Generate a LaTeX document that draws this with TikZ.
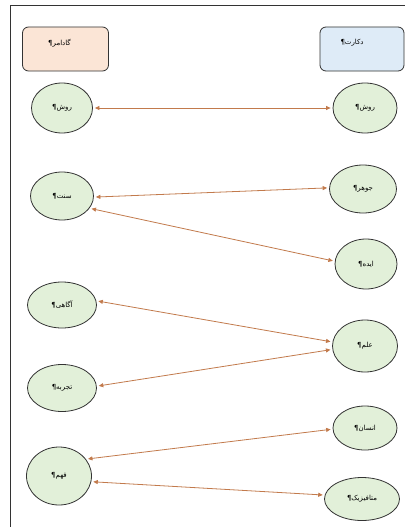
\documentclass[tikz,border=0pt]{standalone}
\usepackage{fontspec}
\TeXXeTstate=1
\newfontfamily\arabicfont[Script=Arabic]{DejaVu Sans}
\usetikzlibrary{shapes.geometric,arrows.meta,calc}
\definecolor{peach}{HTML}{FBE5D6}
\definecolor{paleblue}{HTML}{DEEBF7}
\definecolor{palegreen}{HTML}{E2F0D9}
\definecolor{edgegray}{HTML}{333333}
\definecolor{arrowcol}{HTML}{C27A4C}
\tikzset{
  box/.style={draw=edgegray,line width=0.8pt,rounded corners=6pt,minimum width=86pt,minimum height=44pt,inner sep=0pt},
  concept/.style={ellipse,draw=edgegray,line width=0.8pt,fill=palegreen,inner sep=0pt,font=\arabicfont\fontsize{7}{8}\selectfont},
  lbl/.style={inner sep=0pt,font=\arabicfont\fontsize{7}{8}\selectfont},
  link/.style={draw=arrowcol,line width=0.8pt,{Triangle[length=4.5pt,width=4pt]}-{Triangle[length=4.5pt,width=4pt]},shorten <=2pt,shorten >=2pt},
  frame/.style={draw=edgegray,line width=0.9pt}
}
\begin{document}
\begin{tikzpicture}[x=1pt,y=-1pt]
\useasboundingbox (0,0) rectangle (404,527);
\fill[white] (0,0) rectangle (404,527);
\coordinate (fbl) at (10,540);
\coordinate (ftl) at (10,5);
\coordinate (ftr) at (410,5);
\draw[frame] (fbl) -- (ftl) -- (ftr);
% header boxes
\node[box,fill=peach] (gad) at (65.5,49) {};
\node[box,fill=paleblue,minimum width=84pt] (des) at (362,49) {};
\node[lbl] (gadt) at ($(gad.center)+(-6,-6)$) {\beginR گادامر¶\endR};
\node[lbl] (dest) at ($(des.center)+(-10,-6)$) {\beginR دکارت¶\endR};
% left column
\node[concept,minimum width=61pt,minimum height=50pt] (rL) at (62,108) {\beginR روش¶\endR};
\node[concept,minimum width=63pt,minimum height=48pt] (sonnat) at (62,196) {\beginR سنت¶\endR};
\node[concept,minimum width=69pt,minimum height=46pt] (agahi) at (62,305) {\beginR آگاهی¶\endR};
\node[concept,minimum width=69pt,minimum height=47pt] (tajrobe) at (62,388) {\beginR تجربه¶\endR};
\node[concept,minimum width=65pt,minimum height=58pt] (fahm) at (59,476) {\beginR فهم¶\endR};
% right column
\node[concept,minimum width=64pt,minimum height=50pt] (rR) at (365,108) {\beginR روش¶\endR};
\node[concept,minimum width=67pt,minimum height=48pt] (jowhar) at (363,189) {\beginR جوهر¶\endR};
\node[concept,minimum width=62pt,minimum height=50pt] (ideh) at (366,264) {\beginR ایده¶\endR};
\node[concept,minimum width=65pt,minimum height=52pt] (elm) at (365,346) {\beginR علم¶\endR};
\node[concept,minimum width=64pt,minimum height=44pt] (ensan) at (365,428) {\beginR انسان¶\endR};
\node[concept,minimum width=75pt,minimum height=43pt] (meta) at (362,499) {\beginR متافیزیک¶\endR};
% links
\draw[link] (rL.east) -- (rR.west);
\draw[link] (sonnat.-2) -- (jowhar.178);
\draw[link] (sonnat.-24) -- (ideh.175);
\draw[link] (agahi.7) -- (elm.173);
\draw[link] (tajrobe.3) -- (elm.186);
\draw[link] (fahm.32) -- (ensan.182);
\draw[link] (fahm.-10) -- (meta.174);
\end{tikzpicture}
\end{document}
